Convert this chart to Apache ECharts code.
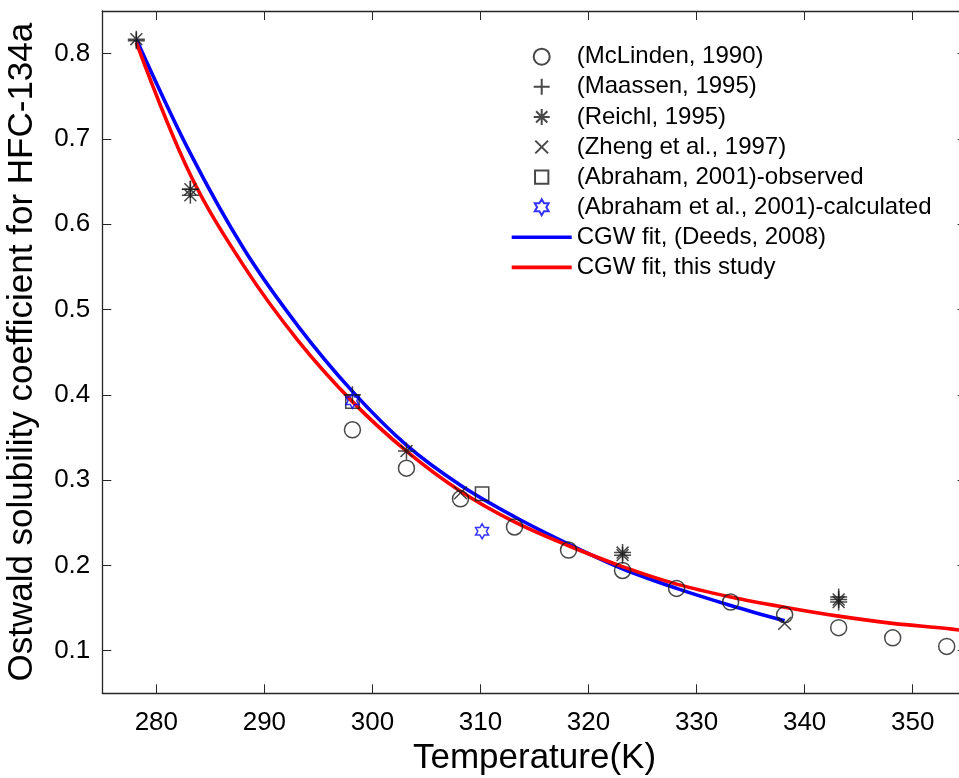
<!DOCTYPE html>
<html>
<head>
<meta charset="utf-8">
<script src="https://cdn.jsdelivr.net/npm/echarts@6/dist/echarts.min.js"></script>
<style>
  html, body { margin: 0; padding: 0; background: #fff; }
  #chart { width: 959px; height: 778px; }
</style>
</head>
<body>
<div id="chart"></div>
<script>
// Ostwald solubility coefficient of HFC-134a versus temperature (K)
const mclinden1990 = [
  [298.15, 0.359], [303.15, 0.314], [308.15, 0.278], [313.15, 0.245],
  [318.15, 0.218], [323.15, 0.194], [328.15, 0.173], [333.15, 0.157],
  [338.15, 0.142], [343.15, 0.127], [348.15, 0.115], [353.15, 0.105]
];
const maassen1995 = [
  [278.15, 0.815], [283.15, 0.641], [298.15, 0.400], [343.15, 0.163]
];
const reichl1995 = [
  [278.15, 0.817], [283.15, 0.641], [283.15, 0.634], [303.15, 0.334],
  [323.15, 0.215], [323.15, 0.212], [343.15, 0.160], [343.15, 0.157]
];
const zheng1997 = [
  [308.15, 0.285], [338.15, 0.132]
];
const abrahamObserved = [
  [298.15, 0.392], [310.15, 0.284]
];
const abrahamCalculated = [
  [298.15, 0.393], [310.15, 0.240]
];
// CGW fit curves, sampled every 5 K
const deedsFit = [
  [278.15, 0.817], [283.15, 0.683], [288.15, 0.570], [293.15, 0.480],
  [298.15, 0.404], [303.15, 0.341], [308.15, 0.294], [313.15, 0.257],
  [318.15, 0.225], [323.15, 0.196], [328.15, 0.173], [333.15, 0.153],
  [338.15, 0.135]
];
const thisStudyFit = [
  [278.15, 0.813], [283.15, 0.658], [288.15, 0.550], [293.15, 0.463],
  [298.15, 0.392], [303.15, 0.334], [308.15, 0.287], [313.15, 0.251],
  [318.15, 0.223], [323.15, 0.1985], [328.15, 0.178], [333.15, 0.163],
  [338.15, 0.151], [343.15, 0.1405], [348.15, 0.132], [353.15, 0.126],
  [355, 0.123]
];

const axisColor = '#262626';
const markColor = '#1a1a1a';
const fontFamily = '"Liberation Sans", Arial, Helvetica, sans-serif';

const symCircle = 'circle';
const symPlus = 'path://M0,-1L0,1M-1,0L1,0';
const symStar = 'path://M0,-1L0,1M-1,0L1,0M-0.7,-0.7L0.7,0.7M-0.7,0.7L0.7,-0.7';
// the cross is drawn a little smaller than its box
const symCross = 'path://M-1.25,-1.25M1.25,1.25M-1,-1L1,1M-1,1L1,-1';
const symSquare = 'path://M-1.2,-1.2M1.2,1.2M-1,-1L1,-1L1,1L-1,1Z';
const symHexagram = 'path://M0,-1L0.2887,-0.5L0.866,-0.5L0.577,0L0.866,0.5L0.2887,0.5L0,1L-0.2887,0.5L-0.866,0.5L-0.577,0L-0.866,-0.5L-0.2887,-0.5Z';
// flat bar used as the legend swatch of the fitted curves
const symLineSwatch = 'path://M0,0L60,0L60,3.6L0,3.6Z';

function markerSeries(name, data, symbol, size, color) {
  return {
    name: name,
    type: 'scatter',
    data: data,
    symbol: symbol,
    symbolSize: size,
    symbolKeepAspect: true,
    itemStyle: { color: 'transparent', borderColor: color, borderWidth: 1.5 },
    emphasis: { disabled: true },
    z: 3
  };
}

function fitSeries(name, data, color) {
  return {
    name: name,
    type: 'line',
    data: data,
    smooth: 0.35,
    showSymbol: false,
    symbol: 'none',
    lineStyle: { color: color, width: 3.6 },
    itemStyle: { color: color },
    emphasis: { disabled: true },
    z: 2
  };
}

const chart = echarts.init(document.getElementById('chart'), null, { renderer: 'canvas' });

const tickStyle = { show: true, inside: true, length: 9, lineStyle: { color: axisColor, width: 1 } };

chart.setOption({
  animation: false,
  backgroundColor: '#fff',
  textStyle: { fontFamily: fontFamily },
  grid: { left: 102.3, top: 11, right: -7.7, bottom: 84.7, containLabel: false, outerBoundsMode: 'none' },
  legend: {
    orient: 'vertical',
    left: 511.7,
    top: 44.7,
    padding: 0,
    itemWidth: 60,
    itemHeight: 16,
    itemGap: 6.1,
    textStyle: { fontSize: 24, lineHeight: 24, color: '#000', fontFamily: fontFamily },
    data: [
      { name: '(McLinden, 1990)' },
      { name: '(Maassen, 1995)' },
      { name: '(Reichl, 1995)' },
      { name: '(Zheng et al., 1997)' },
      { name: '(Abraham, 2001)-observed' },
      { name: '(Abraham et al., 2001)-calculated' },
      { name: 'CGW fit, (Deeds, 2008)', icon: symLineSwatch, itemStyle: { color: '#0000ff', borderWidth: 0 } },
      { name: 'CGW fit, this study', icon: symLineSwatch, itemStyle: { color: '#ff0000', borderWidth: 0 } }
    ]
  },
  xAxis: [{
    type: 'value', min: 275, max: 355, splitNumber: 8,
    name: 'Temperature(K)', nameLocation: 'middle', nameGap: 48,
    nameTextStyle: { fontSize: 35, color: '#000', fontFamily: fontFamily },
    axisLine: { show: true, onZero: false, lineStyle: { color: axisColor, width: 1.3 } },
    axisTick: tickStyle,
    axisLabel: { fontSize: 26, color: '#000', margin: 16.5, showMinLabel: false, showMaxLabel: false, fontFamily: fontFamily },
    splitLine: { show: false }
  }, {
    type: 'value', min: 275, max: 355, splitNumber: 8, position: 'top',
    axisLine: { show: true, onZero: false, lineStyle: { color: axisColor, width: 1.3 } },
    axisTick: tickStyle, axisLabel: { show: false }, splitLine: { show: false }
  }],
  yAxis: [{
    type: 'value', min: 0.05, max: 0.85, splitNumber: 8,
    name: 'Ostwald solubility coefficient for HFC-134a', nameLocation: 'middle', nameGap: 62,
    nameTextStyle: { fontSize: 35, color: '#000', fontFamily: fontFamily },
    axisLine: { show: true, onZero: false, lineStyle: { color: axisColor, width: 1.3 } },
    axisTick: tickStyle,
    axisLabel: { fontSize: 26, color: '#000', margin: 12, showMinLabel: false, showMaxLabel: false, fontFamily: fontFamily },
    splitLine: { show: false }
  }, {
    type: 'value', min: 0.05, max: 0.85, splitNumber: 8, position: 'right',
    axisLine: { show: true, onZero: false, lineStyle: { color: axisColor, width: 1.3 } },
    axisTick: tickStyle, axisLabel: { show: false }, splitLine: { show: false }
  }],
  series: [
    markerSeries('(McLinden, 1990)', mclinden1990, symCircle, 16, markColor),
    markerSeries('(Maassen, 1995)', maassen1995, symPlus, 17, markColor),
    markerSeries('(Reichl, 1995)', reichl1995, symStar, 17, markColor),
    markerSeries('(Zheng et al., 1997)', zheng1997, symCross, 16, markColor),
    markerSeries('(Abraham, 2001)-observed', abrahamObserved, symSquare, 16, markColor),
    markerSeries('(Abraham et al., 2001)-calculated', abrahamCalculated, symHexagram, 15, '#0000ff'),
    fitSeries('CGW fit, (Deeds, 2008)', deedsFit, '#0000ff'),
    fitSeries('CGW fit, this study', thisStudyFit, '#ff0000')
  ]
});
</script>
</body>
</html>
